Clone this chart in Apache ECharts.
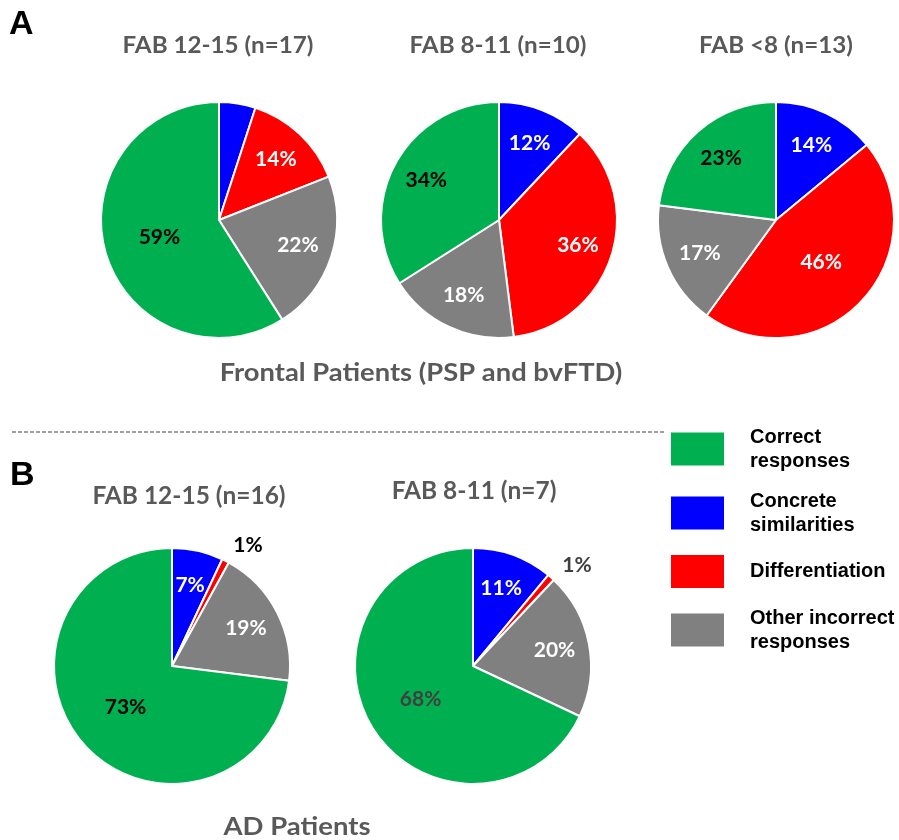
<!DOCTYPE html>
<html>
<head>
<meta charset="utf-8">
<script src="https://cdn.jsdelivr.net/npm/echarts@6/dist/echarts.min.js"></script>
<style>
html,body{margin:0;padding:0;background:#fff;}
#chart{width:899px;height:840px;}
</style>
</head>
<body>
<div id="chart"></div>
<script>
// ---- data ----
const categories = ['Correct responses', 'Concrete similarities', 'Differentiation', 'Other incorrect responses'];
const legendLabels = ['Correct\nresponses', 'Concrete\nsimilarities', 'Differentiation', 'Other incorrect\nresponses'];
const pieTitles = ['FAB 12-15 (n=17)', 'FAB 8-11 (n=10)', 'FAB <8 (n=13)', 'FAB 12-15 (n=16)', 'FAB 8-11 (n=7)'];
const groupTitles = ['Frontal Patients (PSP and bvFTD)', 'AD Patients'];
const panelLetters = ['A', 'B'];
// values in category order: correct, concrete, differentiation, other
const frontalFab1215 = [59, 5, 14, 22];
const frontalFab811 = [34, 12, 36, 18];
const frontalFabLt8 = [23, 14, 46, 17];
const adFab1215 = [73, 7, 1, 19];
const adFab811 = [68, 11, 1, 20];
const pieValues = [frontalFab1215, frontalFab811, frontalFabLt8, adFab1215, adFab811];

// ---- style / layout ----
const colors = ['#00B050', '#0000FF', '#FF0000', '#808080'];
const drawOrder = [1, 2, 3, 0]; // clockwise from 12 o'clock
const pieLayout = [
  {cx: 219, cy: 220, tx: 218, ty: 46, fs: 22, sx: 1.10, dark: '#000'},
  {cx: 499, cy: 220, tx: 498, ty: 46, fs: 22, sx: 1.10, dark: '#000'},
  {cx: 776, cy: 220, tx: 776, ty: 46, fs: 22, sx: 1.10, dark: '#000'},
  {cx: 172, cy: 666, tx: 189, ty: 496, fs: 24, sx: 1.02, dark: '#000'},
  {cx: 473, cy: 666, tx: 474, ty: 491, fs: 24, sx: 1.02, dark: '#404040'}
];
const R = 118;
const labelFont = {fontFamily: 'Lato', fontWeight: 'bold', fontSize: 21};

const series = [];
pieValues.forEach((vals, p) => {
  const L = pieLayout[p];
  const mainData = drawOrder.map(ci => {
    const v = vals[ci];
    const outside = v <= 1;
    const big = v >= 40;
    return {
      name: categories[ci], value: v,
      itemStyle: {color: colors[ci]},
      label: {
        show: outside || big,
        position: outside ? 'outside' : 'inside',
        color: (ci === 0 || outside) ? L.dark : '#fff'
      },
      labelLine: {show: false, length: 17, length2: 0}
    };
  });
  series.push({
    type: 'pie', center: [L.cx, L.cy], radius: [0, R], startAngle: 90, clockwise: true,
    avoidLabelOverlap: false, animation: false, silent: true,
    itemStyle: {borderColor: '#fff', borderWidth: 2},
    label: Object.assign({formatter: '{c}%', distanceToLabelLine: 0}, labelFont),
    data: mainData
  });
  const overlayData = drawOrder.map(ci => {
    const v = vals[ci];
    return {
      name: categories[ci], value: v,
      itemStyle: {color: 'rgba(0,0,0,0)', borderWidth: 0},
      label: {show: v > 5 && v < 40, color: ci === 0 ? L.dark : '#fff'}
    };
  });
  series.push({
    type: 'pie', center: [L.cx, L.cy], radius: [0, 160], startAngle: 90, clockwise: true,
    avoidLabelOverlap: false, animation: false, silent: true,
    label: Object.assign({position: 'inside', formatter: '{c}%'}, labelFont),
    labelLine: {show: false},
    data: overlayData
  });
});

function txt(text, x, y, font, fill, align, sx) {
  return {type: 'text', silent: true, x: x, y: y, scaleX: sx || 1, scaleY: 1,
    style: {text: text, x: 0, y: 0, font: font, fill: fill,
      textAlign: align || 'center', align: align || 'center',
      textVerticalAlign: 'middle', verticalAlign: 'middle'}};
}
const graphics = [];
pieTitles.forEach((t, i) => {
  const L = pieLayout[i];
  graphics.push(txt(t, L.tx, L.ty, 'bold ' + L.fs + 'px Lato', '#595959', 'center', L.sx));
});
graphics.push(txt(groupTitles[0], 421, 373, 'bold 24px Lato', '#595959', 'center', 1.14));
graphics.push(txt(groupTitles[1], 297, 827, 'bold 25px Lato', '#595959', 'center', 1.10));
graphics.push(txt(panelLetters[0], 9, 25, 'bold 34px "Liberation Sans"', '#000', 'left'));
graphics.push(txt(panelLetters[1], 10, 476, 'bold 34px "Liberation Sans"', '#000', 'left'));
graphics.push({type: 'line', silent: true, shape: {x1: 12, y1: 432, x2: 665, y2: 432},
  style: {stroke: '#808080', lineWidth: 1.5, lineDash: [4, 2]}});

const chart = echarts.init(document.getElementById('chart'), null, {renderer: 'canvas'});
chart.setOption({
  backgroundColor: '#fff',
  animation: false,
  legend: {
    orient: 'vertical', left: 669, top: 425, padding: 0,
    itemWidth: 55, itemHeight: 35, itemGap: 16, icon: 'rect',
    selectedMode: false,
    data: categories.map((c, i) => ({name: c, itemStyle: {color: colors[i]}})),
    formatter: name => legendLabels[categories.indexOf(name)],
    textStyle: {fontFamily: 'Liberation Sans', fontWeight: 'bold', fontSize: 20, color: '#000',
      lineHeight: 24, padding: [0, 0, 0, 20]}
  },
  graphic: graphics,
  series: series
});
</script>
</body>
</html>
